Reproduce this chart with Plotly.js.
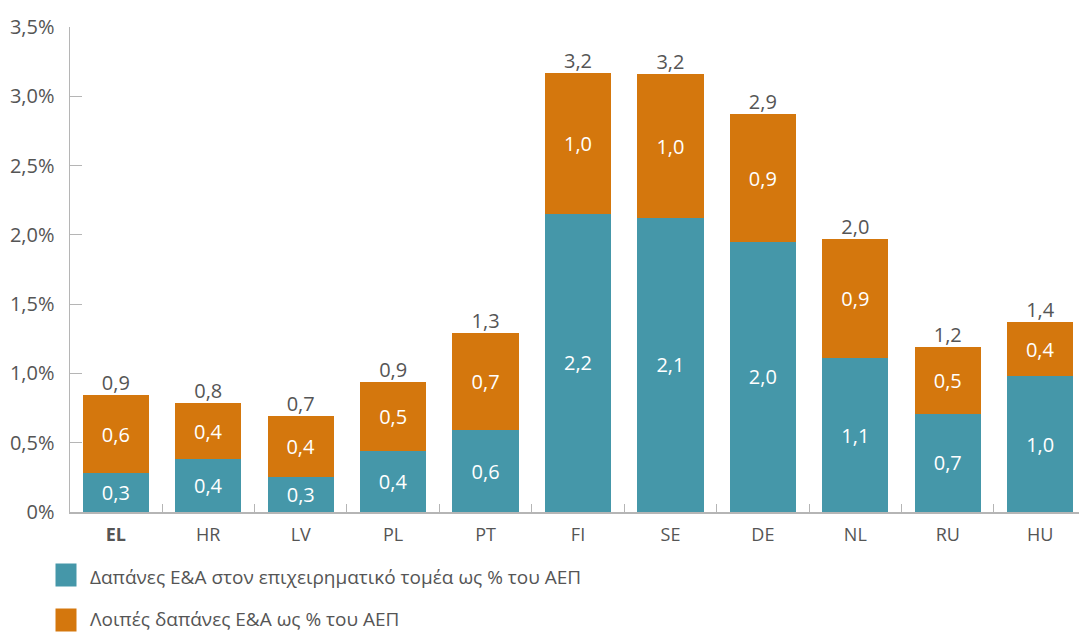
<!DOCTYPE html>
<html>
<head>
<meta charset="utf-8">
<script src="https://cdn.plot.ly/plotly-3.0.1.min.js"></script>
<style>
html,body{margin:0;padding:0;background:#fff;}
#chart{width:1079px;height:633px;}
</style>
</head>
<body>
<div id="chart"></div>
<script>
// Data
var categories = ["EL","HR","LV","PL","PT","FI","SE","DE","NL","RU","HU"];
var categoryLabels = ["<b>EL</b>","HR","LV","PL","PT","FI","SE","DE","NL","RU","HU"];
var businessRD = [0.281,0.380,0.253,0.440,0.589,2.153,2.124,1.951,1.111,0.710,0.981];
var otherRD    = [0.561,0.409,0.437,0.501,0.703,1.014,1.034,0.918,0.857,0.480,0.388];
var businessLabels = ["0,3","0,4","0,3","0,4","0,6","2,2","2,1","2,0","1,1","0,7","1,0"];
var otherLabels    = ["0,6","0,4","0,4","0,5","0,7","1,0","1,0","0,9","0,9","0,5","0,4"];
var totalLabels    = ["0,9","0,8","0,7","0,9","1,3","3,2","3,2","2,9","2,0","1,2","1,4"];
var seriesNames = ["Δαπάνες Ε&Α στον επιχειρηματικό τομέα ως % του ΑΕΠ","Λοιπές δαπάνες Ε&Α ως % του ΑΕΠ"];
var yTickVals = [0,0.5,1,1.5,2,2.5,3,3.5];
var yTickText = ["0%","0,5%","1,0%","1,5%","2,0%","2,5%","3,0%","3,5%"];

var colors = ["#4597a9","#d4770d"];
var FONT = "'Open Sans', 'Noto Sans', sans-serif";
var TXT = "#555555";

var totals = businessRD.map(function(v,i){return v + otherRD[i];});

var traces = [
  {type:"bar", x:categories, y:businessRD, name:seriesNames[0], text:businessLabels,
   texttemplate:"%{text}", textposition:"inside", insidetextanchor:"middle", textangle:0,
   constraintext:"none", textfont:{color:"#ffffff", size:20, family:FONT},
   marker:{color:colors[0]}, hoverinfo:"skip", showlegend:false},
  {type:"bar", x:categories, y:otherRD, name:seriesNames[1], text:otherLabels,
   texttemplate:"%{text}", textposition:"inside", insidetextanchor:"middle", textangle:0,
   constraintext:"none", textfont:{color:"#ffffff", size:20, family:FONT},
   marker:{color:colors[1]}, hoverinfo:"skip", showlegend:false},
  {type:"scatter", mode:"text", x:categories, y:totals, text:totalLabels,
   textposition:"top center", textfont:{color:TXT, size:20, family:FONT},
   hoverinfo:"skip", showlegend:false, cliponaxis:false}
];

// Manual legend (marker squares + labels)
var shapes = [];
var annotations = [];
var markerCY = [575, 620];
var textCY = [577, 619];
var plotTop = 27, plotH = 485, plotL = 70, plotW = 1009;
function py(p){return (plotTop + plotH - p)/plotH;}
function px(p){return (p - plotL)/plotW;}
for (var i=0;i<2;i++){
  shapes.push({type:"rect", xref:"paper", yref:"paper",
    x0:px(55.5), x1:px(76.5), y0:py(markerCY[i]-11.5), y1:py(markerCY[i]+11.5),
    fillcolor:colors[i], line:{width:0}});
  annotations.push({xref:"paper", yref:"paper", x:px(88), y:py(textCY[i]),
    xanchor:"left", yanchor:"middle", showarrow:false, text:seriesNames[i],
    font:{size:19, color:TXT, family:FONT}});
}

var layout = {
  width:1079, height:633,
  margin:{l:70, r:0, t:27, b:121},
  paper_bgcolor:"#ffffff", plot_bgcolor:"#ffffff",
  barmode:"stack", bargap:0.283,
  showlegend:false,
  font:{family:FONT, color:TXT, size:18},
  xaxis:{type:"category", range:[-0.496, 10.42], showline:true, linecolor:"#b5b5b5", linewidth:1.5,
    ticks:"inside", ticklen:8, tickcolor:"#b5b5b5", tickson:"boundaries",
    tickvals:categories, ticktext:categoryLabels, showgrid:false, zeroline:false,
    tickfont:{size:18, color:TXT, family:FONT}, ticklabelstandoff:6, fixedrange:true},
  yaxis:{range:[0,3.5], showline:true, linecolor:"#b5b5b5", linewidth:1.5,
    ticks:"inside", ticklen:12, tickcolor:"#b5b5b5",
    tickvals:yTickVals, ticktext:yTickText, showgrid:false, zeroline:false,
    tickfont:{size:20, color:TXT, family:FONT}, ticklabelstandoff:10, fixedrange:true},
  shapes:shapes,
  annotations:annotations
};

Plotly.newPlot("chart", traces, layout, {staticPlot:true, displayModeBar:false});
</script>
</body>
</html>
